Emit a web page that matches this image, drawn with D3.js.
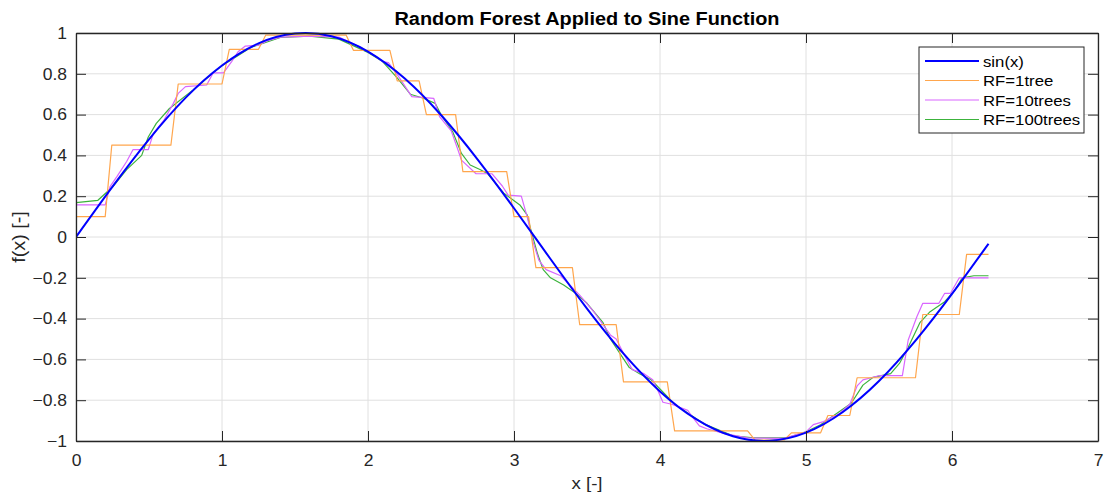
<!DOCTYPE html>
<html>
<head>
<meta charset="utf-8">
<script src="https://cdn.jsdelivr.net/npm/d3@7"></script>
<style>
  body { margin: 0; background: #fff; }
  svg { font-family: "Liberation Sans", Arial, sans-serif; }
</style>
</head>
<body>
<svg id="chart" width="1104" height="496"></svg>
<script>
// sin(x)
const sinX = [0, 0.25, 0.5, 0.75, 1, 1.25, 1.5, 1.75, 2, 2.25, 2.5, 2.75, 3, 3.25, 3.5, 3.75, 4, 4.25, 4.5, 4.75, 5, 5.25, 5.5, 5.75, 6, 6.25]
const sinY = [0, 0.247, 0.479, 0.682, 0.841, 0.949, 0.997, 0.984, 0.909, 0.778, 0.598, 0.381, 0.141, -0.108, -0.351, -0.572, -0.757, -0.894, -0.977, -0.999, -0.959, -0.859, -0.706, -0.508, -0.279, -0.033]

// RF with 1 tree (step function)
const rf1X = [0, 0.20, 0.245, 0.65, 0.70, 1.00, 1.05, 1.25, 1.30, 1.85, 1.90, 2.15, 2.20, 2.35, 2.40, 2.60, 2.65, 2.95, 3.00, 3.10, 3.15, 3.40, 3.45, 3.70, 3.75, 4.05, 4.10, 4.60, 4.65, 4.85, 4.90, 5.10, 5.15, 5.30, 5.35, 5.75, 5.80, 6.05, 6.10, 6.25]
const rf1Y = [0.10, 0.10, 0.45, 0.45, 0.75, 0.75, 0.92, 0.92, 0.99, 0.99, 0.915, 0.915, 0.765, 0.765, 0.60, 0.60, 0.32, 0.32, 0.10, 0.10, -0.15, -0.15, -0.43, -0.43, -0.71, -0.71, -0.95, -0.95, -0.995, -0.995, -0.96, -0.96, -0.875, -0.875, -0.69, -0.69, -0.38, -0.38, -0.085, -0.085]

// RF with 10 trees
const rf10X = [0, 0.20, 0.233, 0.28, 0.347, 0.39, 0.495, 0.53, 0.60, 0.667, 0.70, 0.75, 0.895, 0.94, 1.01, 1.066, 1.11, 1.16, 1.25, 1.31, 1.40, 1.60, 1.80, 1.95, 2.05, 2.10, 2.14, 2.21, 2.30, 2.45, 2.49, 2.57, 2.61, 2.64, 2.74, 2.85, 2.92, 2.96, 3.05, 3.09, 3.13, 3.17, 3.22, 3.32, 3.45, 3.55, 3.66, 3.70, 3.75, 3.81, 3.89, 3.95, 3.99, 4.02, 4.08, 4.19, 4.22, 4.27, 4.32, 4.45, 4.60, 4.85, 5.00, 5.05, 5.12, 5.23, 5.30, 5.35, 5.39, 5.50, 5.66, 5.70, 5.76, 5.80, 5.91, 5.95, 5.99, 6.05, 6.25]
const rf10Y = [0.157, 0.157, 0.247, 0.296, 0.37, 0.428, 0.428, 0.508, 0.57, 0.655, 0.704, 0.737, 0.745, 0.805, 0.805, 0.86, 0.908, 0.936, 0.94, 0.962, 0.98, 0.985, 0.98, 0.93, 0.887, 0.86, 0.855, 0.786, 0.688, 0.68, 0.59, 0.52, 0.44, 0.377, 0.31, 0.31, 0.25, 0.205, 0.20, 0.10, -0.023, -0.113, -0.16, -0.19, -0.285, -0.37, -0.48, -0.50, -0.57, -0.65, -0.67, -0.70, -0.76, -0.81, -0.82, -0.85, -0.88, -0.926, -0.94, -0.965, -0.985, -0.987, -0.955, -0.92, -0.905, -0.865, -0.82, -0.73, -0.70, -0.68, -0.68, -0.505, -0.39, -0.325, -0.325, -0.276, -0.276, -0.20, -0.20]

// RF with 100 trees
const rf100X = [0, 0.15, 0.25, 0.347, 0.45, 0.495, 0.55, 0.64, 0.80, 1.00, 1.20, 1.40, 1.60, 1.80, 2.00, 2.10, 2.20, 2.29, 2.38, 2.46, 2.50, 2.58, 2.64, 2.70, 2.77, 2.82, 2.93, 3.04, 3.09, 3.11, 3.16, 3.20, 3.25, 3.34, 3.43, 3.50, 3.61, 3.66, 3.79, 3.86, 3.94, 3.98, 4.10, 4.30, 4.50, 4.64, 4.87, 5.00, 5.10, 5.31, 5.39, 5.46, 5.58, 5.64, 5.70, 5.78, 5.85, 5.95, 6.02, 6.07, 6.15, 6.25]
const rf100Y = [0.168, 0.18, 0.245, 0.33, 0.40, 0.49, 0.557, 0.63, 0.72, 0.84, 0.93, 0.978, 0.985, 0.97, 0.905, 0.86, 0.78, 0.70, 0.68, 0.655, 0.60, 0.516, 0.41, 0.353, 0.33, 0.31, 0.215, 0.157, 0.108, 0.05, -0.08, -0.16, -0.20, -0.235, -0.28, -0.325, -0.42, -0.50, -0.64, -0.67, -0.70, -0.73, -0.82, -0.916, -0.975, -0.984, -0.984, -0.955, -0.92, -0.815, -0.726, -0.688, -0.67, -0.62, -0.54, -0.42, -0.366, -0.317, -0.26, -0.20, -0.19, -0.19]

const xTicks = [0, 1, 2, 3, 4, 5, 6, 7]
const yTicks = [-1, -0.8, -0.6, -0.4, -0.2, 0, 0.2, 0.4, 0.6, 0.8, 1]

const series = [
  { name: "sin(x)", xs: sinX, ys: sinY, color: "#0000ff", width: 2, curve: d3.curveNatural },
  { name: "RF=1tree", xs: rf1X, ys: rf1Y, color: "#ffa64d", width: 1.2, curve: d3.curveLinear },
  { name: "RF=10trees", xs: rf10X, ys: rf10Y, color: "#d966ff", width: 1.2, curve: d3.curveLinear },
  { name: "RF=100trees", xs: rf100X, ys: rf100Y, color: "#3cb33c", width: 1.2, curve: d3.curveLinear }
]

const svg = d3.select("#chart")
const margin = { top: 33, right: 6, bottom: 55, left: 76 }
const width = 1104 - margin.left - margin.right
const height = 496 - margin.top - margin.bottom
const axisColor = "#262626"

const x = d3.scaleLinear().domain([0, 7]).range([0, width])
const y = d3.scaleLinear().domain([-1, 1]).range([height, 0])

// the reference text is a bit wider than Arial, stretch it
function stretch(sel, k) {
  sel.each(function () {
    const w = this.getComputedTextLength()
    d3.select(this).attr("textLength", w * k).attr("lengthAdjust", "spacingAndGlyphs")
  })
}

const g = svg.append("g").attr("transform", `translate(${margin.left},${margin.top})`)

// grid
g.append("g").selectAll("line").data(xTicks).join("line")
  .attr("x1", d => x(d)).attr("x2", d => x(d))
  .attr("y1", 0).attr("y2", height)
  .attr("stroke", "#e0e0e0").attr("stroke-width", 1)
g.append("g").selectAll("line").data(yTicks).join("line")
  .attr("x1", 0).attr("x2", width)
  .attr("y1", d => y(d)).attr("y2", d => y(d))
  .attr("stroke", "#e0e0e0").attr("stroke-width", 1)

// lines
g.append("clipPath").attr("id", "clip")
  .append("rect").attr("x", 0).attr("y", -2).attr("width", width).attr("height", height + 4)

series.slice().reverse().forEach(s => {
  const pts = s.xs.map((v, i) => [v, s.ys[i]])
  const line = d3.line().x(d => x(d[0])).y(d => y(d[1])).curve(s.curve)
  g.append("path")
    .datum(pts)
    .attr("clip-path", "url(#clip)")
    .attr("fill", "none")
    .attr("stroke", s.color)
    .attr("stroke-width", s.width)
    .attr("stroke-linejoin", "round")
    .attr("d", line)
})

// axes (ticks inside, box on all sides)
function styleAxis(sel, showLabels) {
  sel.select(".domain").attr("stroke", axisColor).attr("stroke-width", 1.3)
  sel.selectAll(".tick line").attr("stroke", axisColor).attr("stroke-width", 1)
  sel.selectAll(".tick text")
    .attr("fill", axisColor)
    .style("font-size", "16.5px")
  if (showLabels) sel.selectAll(".tick text").call(stretch, 1.06)
  else sel.selectAll(".tick text").remove()
}

const fmt = d => d3.format("~g")(d)

g.append("g")
  .attr("transform", `translate(0,${height})`)
  .call(d3.axisBottom(x).tickValues(xTicks).tickSizeInner(-10).tickSizeOuter(0).tickPadding(13).tickFormat(fmt))
  .call(sel => styleAxis(sel, true))
g.append("g")
  .call(d3.axisTop(x).tickValues(xTicks).tickSizeInner(-10).tickSizeOuter(0))
  .call(sel => styleAxis(sel, false))
g.append("g")
  .call(d3.axisLeft(y).tickValues(yTicks).tickSizeInner(-10).tickSizeOuter(0).tickPadding(9).tickFormat(fmt))
  .call(sel => styleAxis(sel, true))
g.append("g")
  .attr("transform", `translate(${width},0)`)
  .call(d3.axisRight(y).tickValues(yTicks).tickSizeInner(-10).tickSizeOuter(0))
  .call(sel => styleAxis(sel, false))

// title and axis labels
svg.append("text")
  .attr("x", margin.left + width / 2)
  .attr("y", 25)
  .attr("text-anchor", "middle")
  .attr("font-weight", "bold")
  .attr("font-size", "17.5px")
  .attr("fill", "#000")
  .text("Random Forest Applied to Sine Function")
  .attr("textLength", 385).attr("lengthAdjust", "spacingAndGlyphs")

svg.append("text")
  .attr("x", margin.left + width / 2)
  .attr("y", 489)
  .attr("text-anchor", "middle")
  .attr("font-size", "17px")
  .attr("fill", axisColor)
  .text("x [-]")
  .call(stretch, 1.1)

svg.append("text")
  .attr("transform", `translate(25,${margin.top + height / 2}) rotate(-90)`)
  .attr("text-anchor", "middle")
  .attr("font-size", "18px")
  .attr("fill", axisColor)
  .text("f(x) [-]")
  .call(stretch, 1.1)

// legend
const legend = svg.append("g").attr("transform", "translate(919,47)")
legend.append("rect")
  .attr("width", 165).attr("height", 86)
  .attr("fill", "#fff").attr("stroke", axisColor).attr("stroke-width", 1)
series.forEach((s, i) => {
  const ly = 14 + i * 19.5
  legend.append("line")
    .attr("x1", 6).attr("x2", 60)
    .attr("y1", ly).attr("y2", ly)
    .attr("stroke", s.color).attr("stroke-width", s.width)
  legend.append("text")
    .attr("x", 64).attr("y", ly + 5.5)
    .attr("font-size", "15.5px")
    .attr("fill", "#000")
    .text(s.name)
    .call(stretch, 1.08)
})
</script>
</body>
</html>
